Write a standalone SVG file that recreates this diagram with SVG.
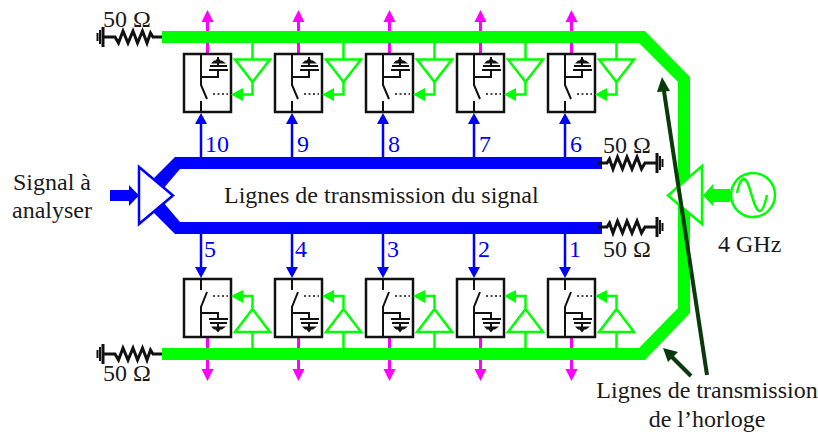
<svg xmlns="http://www.w3.org/2000/svg" xmlns:xlink="http://www.w3.org/1999/xlink" width="818" height="432" viewBox="0 0 818 432">
<style>
text{font-family:"Liberation Serif","Times New Roman",serif;font-size:24px;fill:#1a1a1a}
.n{fill:#0000ff}
.k{fill:none;stroke:#111;stroke-width:2}
.kf{fill:#111}
.box{fill:#fff;stroke:#111;stroke-width:2.500}
.dot{fill:none;stroke:#111;stroke-width:1.500;stroke-dasharray:2 2.500}
.g{fill:none;stroke:#00ff00;stroke-width:2.500}
.gt{fill:#fff;stroke:#00ff00;stroke-width:2.500}
.gf{fill:#00ff00}
.m{stroke:#ff00ff;stroke-width:3;fill:none}
.mf{fill:#ff00ff}
.b{stroke:#0000ff;stroke-width:2.500;fill:none}
.bf{fill:#0000ff}
.r{fill:none;stroke:#111;stroke-width:3}
</style>
<defs>
<g id="top">
<path class="m" d="M207.500 54V20"/><path class="mf" d="M207.500 10L213.500 22H201.500Z"/>
<path class="b" d="M201 157V122"/><path class="bf" d="M201 113L207 124H195Z"/>
<rect class="box" x="184" y="54" width="47" height="58"/>
<path class="k" d="M201 54V85L207 99M201 101V112M201 77H218V70M210 66H227M209 70H228M218 57V66"/>
<path class="kf" d="M211 63.500H226L222 60.500H220.500L218 57.500L215.500 60.500H214Z"/>
<path class="dot" d="M213 94H228"/>
<path class="g" d="M252.500 43V59M252.500 82V94.500H241"/>
<path class="gt" d="M235 59.500H270L252.500 82Z"/>
<path class="gf" d="M231 94.500L243 88V101Z"/>
</g>
<g id="bot">
<path class="m" d="M207.500 337V372"/><path class="mf" d="M207.500 381L213.500 369H201.500Z"/>
<path class="b" d="M201 234V270"/><path class="bf" d="M201 278L207 267H195Z"/>
<rect class="box" x="184" y="279" width="47" height="58"/>
<path class="k" d="M201 279V290M207 292L201 307V337M201 313H218V319M210 323H227M209 319H228M218 323V331"/>
<path class="kf" d="M211 326.500H226L222 329.500H220.500L218 332.500L215.500 329.500H214Z"/>
<path class="dot" d="M213 296H228"/>
<path class="g" d="M252.500 348V332M252.500 308V296H241"/>
<path class="gt" d="M235 332H270L252.500 309Z"/>
<path class="gf" d="M231 296L243 290V303Z"/>
</g>
<g id="res">
<path class="r" d="M0 0H12L15.500 6 L20 -6L25 6L30 -6L34.500 6L39.500 -6L44 6L47.500 -4L50 0H59"/>
<path class="k" d="M0 -10V10" style="stroke-width:3"/><path class="k" d="M-3 -7V7M-5.500 -4V4" style="stroke-width:2"/>
</g>
</defs>
<g id="connectors">
<use xlink:href="#top"/><use xlink:href="#top" x="91"/><use xlink:href="#top" x="182"/><use xlink:href="#top" x="273"/><use xlink:href="#top" x="364"/>
<use xlink:href="#bot"/><use xlink:href="#bot" x="91"/><use xlink:href="#bot" x="182"/><use xlink:href="#bot" x="273"/><use xlink:href="#bot" x="364"/>
<path id="clock-line" class="gf" d="M162 31H645L690 77V313L645 360H162V348H639L678 308V82L639 43H162Z"/>
<path id="signal-line" class="bf" d="M602 157H175L153 179L163 189L180 169H602ZM602 222H180L163 202L153 212L175 234H602Z"/>
<path class="bf" d="M110 190H129V185L139 195.500L129 206V201H110Z"/>
<path class="gf" d="M730 189H713V184L703 195.500L713 206V202H730Z"/>
</g>
<g id="term-tl"><use xlink:href="#res" transform="translate(103 37)"/><text x="103" y="27">50 Ω</text></g>
<g id="term-bl"><use xlink:href="#res" transform="translate(103 354)"/><text x="103" y="381">50 Ω</text></g>
<g id="term-tr"><use xlink:href="#res" transform="translate(657 163) scale(-1 1)"/><text x="603" y="153">50 Ω</text></g>
<g id="term-br"><use xlink:href="#res" transform="translate(657 227) scale(-1 1)"/><text x="603" y="257">50 Ω</text></g>
<g id="numbers">
<text class="n" x="205" y="152">10</text><text class="n" x="297" y="152">9</text><text class="n" x="388" y="152">8</text><text class="n" x="479" y="152">7</text><text class="n" x="570" y="152">6</text>
<text class="n" x="204" y="257">5</text><text class="n" x="295" y="257">4</text><text class="n" x="387" y="257">3</text><text class="n" x="478" y="257">2</text><text class="n" x="569" y="257">1</text>
</g>
<g id="input"><path d="M139 167V224L173 195.500Z" fill="#fff" stroke="#0000ff" stroke-width="2.500"/>
<text x="52" y="190" text-anchor="middle">Signal à</text><text x="52" y="218" text-anchor="middle">analyser</text></g>
<text x="224" y="203">Lignes de transmission du signal</text>
<g id="clock"><path class="gt" d="M702 166V224L668 195.500Z"/>
<circle class="gt" cx="753" cy="195" r="22"/>
<path class="g" d="M737 193C739 184 741 179 744 179C750 179 753 211 760 211C763 211 765 204 767 195"/>
<text x="718" y="252">4 GHz</text></g>
<g id="clock-label">
<path d="M663.500 88L707 375" stroke="#0a3a0a" stroke-width="4" fill="none"/><path d="M662 77L670 91L657 92Z" fill="#0a3a0a"/>
<path d="M691 376L669 354" stroke="#0a3a0a" stroke-width="4" fill="none"/><path d="M663 348L678 352L668 362Z" fill="#0a3a0a"/>
<text x="707" y="398" text-anchor="middle">Lignes de transmission</text><text x="707" y="427" text-anchor="middle">de l’horloge</text>
</g>
</svg>
